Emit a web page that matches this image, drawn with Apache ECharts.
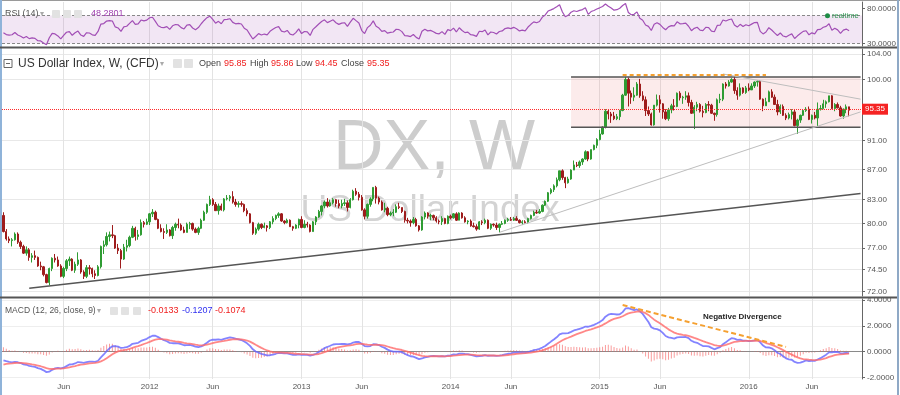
<!DOCTYPE html>
<html><head><meta charset="utf-8">
<script src="https://cdn.jsdelivr.net/npm/echarts@6.0.0/dist/echarts.min.js"></script>
<style>html,body{margin:0;padding:0;background:#fff}#c{width:900px;height:395px}</style>
</head><body><div id="c"></div>
<script>
// ---------- DATA (weekly bars: [open, close, low, high]) ----------
const firstWeek = '2011-01-10';
const futureWeeks = 4;
const preCloses2010 = [84.1,86.0,85.6,86.4,88.1,86.9,85.7,85.5,84.2,84.0,83.2,82.6,81.6,80.4,82.5,83.0,82.6,82.2,82.9,81.4,79.9,78.4,77.1,76.8,77.2,76.9,76.3,78.0,78.7,80.4,79.1,79.6,80.5,80.3,79.0,81.0];
const bars2011 = [
[81.0,79.0,78.9,81.4],[79.0,78.1,77.9,79.3],[78.1,77.9,77.6,78.4],[77.9,78.0,77.2,78.2],[78.0,78.7,77.9,78.9],[78.7,77.7,77.5,78.9],[77.7,77.2,76.9,77.9],[77.2,76.4,76.3,77.4],[76.4,76.8,76.1,77.2],[76.8,75.9,75.5,77.0],
[75.9,76.1,75.3,76.4],[76.1,75.9,75.6,76.7],[75.9,74.9,74.8,76.0],[74.9,74.8,74.4,75.4],[74.8,73.9,73.7,74.9],[73.9,73.0,72.9,74.0],[73.0,74.6,72.7,74.7],[74.6,75.8,74.3,75.9],[75.8,75.6,75.3,76.3],[75.6,74.9,74.8,76.0],
[74.9,73.7,73.6,75.1],[73.7,74.6,73.5,74.8],[74.6,75.5,74.3,75.7],[75.5,75.7,74.9,76.0],[75.7,74.4,74.3,75.8],[74.4,75.1,74.1,75.4],[75.1,75.6,74.9,76.5],[75.6,74.2,74.0,75.7],[74.2,73.7,73.4,74.4],[73.7,74.7,73.5,75.0],
[74.7,74.6,73.9,75.0],[74.6,74.0,73.6,74.7],[74.0,73.8,73.4,74.4],[73.8,74.8,73.7,75.0],[74.8,77.2,74.6,77.3],[77.2,77.4,76.3,77.9],[77.4,78.4,77.2,78.9],[78.4,78.6,77.8,79.0],[78.6,78.5,78.2,79.8],[78.5,77.0,76.9,78.6],
[77.0,76.7,76.3,77.5],[76.7,75.7,74.6,76.9],[75.7,77.1,75.6,77.5],[77.1,77.3,76.6,78.0],[77.3,78.3,77.1,78.5],[78.3,79.4,78.2,79.7],[79.4,78.4,77.9,79.6],[78.4,78.6,78.0,79.2],[78.6,80.1,78.5,80.5],[80.1,79.9,79.5,80.3],
[79.9,80.2,79.8,80.6]];
const bars2012 = [
[80.2,81.2,79.8,81.3],[81.2,81.4,80.8,81.8],[81.4,80.5,80.4,81.6],[80.5,79.4,79.3,80.6],[79.4,79.0,78.9,79.9],[79.0,78.9,78.1,79.4],[78.9,79.2,78.7,79.9],[79.2,78.5,78.4,79.3],[78.5,79.5,78.1,79.7],[79.5,79.9,79.1,80.1],
[79.9,79.8,79.4,80.6],[79.8,79.2,79.1,80.0],[79.2,78.9,78.8,79.6],[78.9,79.9,78.9,80.1],[79.9,80.0,79.3,80.2],[80.0,79.3,79.1,80.1],[79.3,78.9,78.8,79.5],[78.9,79.4,78.6,79.6],[79.4,80.4,79.3,80.6],[80.4,81.4,80.3,81.6],
[81.4,82.4,81.2,82.5],[82.4,83.0,82.2,83.5],[83.0,82.4,82.2,83.2],[82.4,81.6,81.6,82.7],[81.6,82.2,81.1,82.5],[82.2,81.7,81.6,82.5],[81.7,83.1,81.5,83.2],[83.1,83.2,82.9,83.6],[83.2,83.4,82.8,83.6],[83.4,82.7,82.5,84.1],
[82.7,82.4,82.1,83.1],[82.4,82.5,82.0,82.8],[82.5,82.4,82.1,82.8],[82.4,81.6,81.4,82.5],[81.6,81.2,80.9,81.9],[81.2,80.1,80.0,81.3],[80.1,78.8,78.6,80.2],[78.8,79.3,78.6,79.5],[79.3,79.9,79.1,80.1],[79.9,79.5,79.3,80.0],
[79.5,79.7,79.4,80.1],[79.7,79.5,79.0,79.8],[79.5,80.2,79.3,80.3],[80.2,80.6,79.9,80.9],[80.6,81.0,80.4,81.1],[81.0,81.2,80.7,81.4],[81.2,80.3,80.2,81.3],[80.3,80.1,79.9,80.4],[80.1,80.4,80.0,80.6],[80.4,79.6,79.6,80.5],
[79.6,79.4,79.1,79.7],[79.4,79.8,79.3,79.9],[79.8,80.5,79.4,80.6]];
const bars2013 = [
[80.5,79.5,79.4,80.9],[79.5,79.9,79.4,80.4],[79.9,79.8,79.5,80.2],[79.8,79.0,78.9,79.9],[79.0,80.2,79.0,80.3],[80.2,80.8,79.8,80.9],[80.8,81.5,80.7,81.7],[81.5,82.2,81.0,82.3],[82.2,82.7,81.9,82.9],[82.7,82.2,82.0,83.2],
[82.2,82.6,82.1,83.0],[82.6,83.0,82.4,83.2],[83.0,82.5,82.1,83.1],[82.5,82.2,81.9,83.0],[82.2,82.5,81.9,83.0],[82.5,82.6,82.2,83.1],[82.6,82.0,81.5,82.9],[82.0,83.0,81.9,83.2],[83.0,84.1,82.9,84.3],[84.1,83.7,83.5,84.5],
[83.7,83.3,82.9,84.0],[83.3,81.7,81.6,83.6],[81.7,80.9,80.5,81.9],[80.9,82.4,80.6,82.5],[82.4,83.1,82.1,83.3],[83.1,84.6,82.8,84.6],[84.6,83.2,82.5,84.8],[83.2,82.7,82.4,83.4],[82.7,81.7,81.6,82.9],[81.7,81.9,81.4,82.6],
[81.9,81.1,80.9,82.1],[81.1,81.3,80.9,81.5],[81.3,81.4,80.9,81.8],[81.4,82.1,81.3,82.4],[82.1,82.0,81.8,82.6],[82.0,81.5,81.3,82.0],[81.5,80.4,80.1,81.6],[80.4,80.3,80.0,80.7],[80.3,80.1,79.6,80.5],[80.1,80.5,79.9,80.8],
[80.5,79.7,79.6,80.7],[79.7,79.2,79.0,79.8],[79.2,80.8,79.1,80.9],[80.8,81.3,80.5,81.5],[81.3,80.9,80.6,81.4],[80.9,81.0,80.4,81.2],[81.0,80.7,80.4,81.1],[80.7,80.3,80.1,80.9],[80.3,80.2,79.9,80.5],[80.2,80.6,79.8,80.9],
[80.6,80.0,79.9,80.7],[80.0,80.9,79.9,81.0]];
const bars2014 = [
[80.9,80.7,80.5,81.1],[80.7,81.2,80.6,81.3],[81.2,80.4,80.3,81.4],[80.4,81.3,80.4,81.4],[81.3,80.7,80.6,81.4],[80.7,80.2,80.1,80.9],[80.2,80.3,79.9,80.4],[80.3,79.7,79.6,80.5],[79.7,79.6,79.5,80.1],[79.6,79.3,79.1,79.9],
[79.3,80.2,79.2,80.3],[80.2,80.1,79.8,80.4],[80.1,80.4,79.9,80.6],[80.4,79.4,79.3,80.5],[79.4,79.9,79.2,80.0],[79.9,79.8,79.6,80.0],[79.8,79.5,79.2,80.1],[79.5,79.9,78.9,80.0],[79.9,80.0,79.8,80.3],[80.0,80.4,79.9,80.5],
[80.4,80.5,80.2,80.7],[80.5,80.4,80.3,80.8],[80.4,80.6,80.3,80.8],[80.6,80.4,80.3,80.9],[80.4,80.1,80.0,80.5],[80.1,80.2,79.8,80.4],[80.2,80.1,80.0,80.4],[80.1,80.6,80.0,80.7],[80.6,81.0,80.5,81.1],[81.0,81.4,80.9,81.6],
[81.4,81.3,81.2,81.7],[81.3,81.5,81.2,81.8],[81.5,82.3,81.4,82.4],[82.3,82.8,82.2,82.9],[82.8,83.9,82.7,84.0],[83.9,84.3,83.7,84.5],[84.3,84.8,84.0,85.0],[84.8,85.6,84.6,85.9],[85.6,86.8,85.4,86.8],[86.8,85.9,85.6,87.0],
[85.9,85.2,84.5,86.0],[85.2,85.7,85.1,86.0],[85.7,86.9,85.6,87.0],[86.9,87.6,86.9,88.2],[87.6,87.5,87.3,88.0],[87.5,88.0,87.2,88.2],[88.0,88.4,87.6,88.5],[88.4,89.4,88.3,89.6],[89.4,88.4,88.1,89.5],[88.4,89.7,88.3,89.7],
[89.7,90.3,89.6,90.4],[90.3,91.1,89.9,91.3]];
const bars2015 = [
[91.1,91.9,91.0,92.5],[91.9,92.9,91.8,93.0],[92.9,95.2,92.7,95.5],[95.2,94.8,94.0,95.5],[94.8,94.5,93.5,95.1],[94.5,94.1,93.9,95.1],[94.1,94.4,93.9,94.8],[94.4,95.3,93.9,95.4],[95.3,97.6,95.2,97.8],[97.6,100.0,97.5,100.4],
[100.0,97.9,95.9,100.3],[97.9,97.3,96.3,98.3],[97.3,97.6,96.7,98.8],[97.6,99.3,97.5,99.6],[99.3,97.5,97.2,100.1],[97.5,96.9,96.7,98.2],[96.9,95.3,94.5,97.4],[95.3,94.8,94.5,95.9],[94.8,93.2,93.1,95.0],[93.2,96.1,93.1,96.1],
[96.1,96.9,95.9,97.7],[96.9,96.3,95.0,97.6],[96.3,95.1,94.1,96.4],[95.1,94.1,93.9,95.5],[94.1,95.4,93.8,95.7],[95.4,96.0,94.9,96.3],[96.0,95.9,95.3,97.0],[95.9,97.9,95.8,98.0],[97.9,97.2,96.8,98.2],[97.2,97.3,96.3,97.5],
[97.3,97.5,96.9,98.2],[97.5,96.5,95.9,98.0],[96.5,94.9,94.8,96.9],[94.9,95.8,92.6,96.1],[95.8,96.2,95.2,96.6],[96.2,95.2,95.0,96.4],[95.2,95.0,94.3,96.0],[95.0,96.2,94.9,96.4],[96.2,96.1,95.2,96.7],[96.1,94.9,94.8,96.3],
[94.9,94.7,93.8,95.0],[94.7,96.9,94.4,97.1],[96.9,97.0,96.4,97.8],[97.0,99.3,96.7,99.4],[99.3,99.0,98.6,99.6],[99.0,99.6,98.9,99.9],[99.6,100.0,99.5,100.2],[100.0,98.3,97.8,100.5],[98.3,97.6,96.9,98.8],[97.6,98.7,97.4,99.4],
[98.7,98.0,97.8,98.8],[98.0,98.7,97.8,99.0]];
const bars2016 = [
[98.7,98.4,98.2,99.4],[98.4,99.0,98.4,99.4],[99.0,99.6,98.7,99.7],[99.6,99.7,98.9,99.9],[99.7,97.0,96.9,99.9],[97.0,96.0,95.2,97.1],[96.0,96.6,96.0,97.2],[96.6,98.1,96.6,98.3],[98.1,97.3,97.2,98.5],[97.3,96.2,96.2,97.7],
[96.2,95.1,94.6,96.9],[95.1,95.9,94.8,96.2],[95.9,94.6,94.5,96.2],[94.6,94.2,93.9,94.9],[94.2,94.7,94.0,95.0],[94.7,95.1,94.0,95.5],[95.1,93.1,93.0,95.4],[93.1,93.9,91.9,94.1],[93.9,94.6,93.5,94.7],[94.6,95.3,94.5,95.4],
[95.3,95.5,95.1,95.8],[95.5,94.0,93.9,95.9],[94.0,94.6,93.4,94.7],[94.6,94.2,94.0,95.1],[94.2,95.5,93.0,96.5],[95.5,95.6,95.3,96.1],[95.6,96.3,95.5,96.9],[96.3,96.6,95.7,96.8],[96.6,97.5,96.5,97.5],[97.5,95.6,95.5,97.6],
[95.6,96.2,95.2,96.4],[96.2,95.7,95.6,96.5],[95.7,94.5,94.4,96.0],[94.5,95.5,94.1,95.6],[95.5,95.85,94.9,96.2],[95.85,95.35,94.45,95.86]];

// ticks / labels
const priceTicks = [72, 74.5, 77, 80, 83, 87, 91, 100, 104];
const rsiTicks = [30, 80];
const rsiBand = [30, 70];
const macdTicks = [-2, 0, 2, 4];
const priceRange = [71.49, 104.84];
const rsiRange = [26.4, 89.3];
const macdRange = [-2.13, 4.1];
const lastBar = {open: 95.85, high: 95.86, low: 94.45, close: 95.35};
const rsiLegendValue = '48.2801';
const macdLegendValues = ['-0.0133', '-0.1207', '-0.1074'];

// annotations (category index, value)
const trendLong = [[9, 72.36], [299, 83.8]];
const trendRise = [[173, 78.9], [299, 95.1]];
const trendFall = [[251, 100.86], [299, 97.0]];
const resistance = [[216, 100.7], [266, 100.7]];
const rangeBox = {from: 198, to: 299, top: 100.39, bottom: 92.86};
const divergence = [[216, 3.63], [273, 0.37]];

// ---------- BUILD ----------
const bars = [].concat(bars2011, bars2012, bars2013, bars2014, bars2015, bars2016);
const weeks = [];
const t0 = Date.parse(firstWeek + 'T00:00:00Z');
for (let i = 0; i < bars.length + futureWeeks; i++) weeks.push(new Date(t0 + i * 7 * 864e5).toISOString().slice(0, 10));

const closes = preCloses2010.concat(bars.map(b => b[1]));
function ema(a, n) { const k = 2 / (n + 1); const o = []; let e = a[0]; for (let i = 0; i < a.length; i++) { e = i === 0 ? a[0] : a[i] * k + e * (1 - k); o.push(e); } return o; }
function rsiW(cl, n) {
  const o = new Array(cl.length).fill(null); let g = 0, l = 0;
  for (let i = 1; i <= n; i++) { const d = cl[i] - cl[i - 1]; if (d > 0) g += d; else l -= d; }
  g /= n; l /= n; o[n] = 100 - 100 / (1 + g / l);
  for (let i = n + 1; i < cl.length; i++) { const d = cl[i] - cl[i - 1]; g = (g * (n - 1) + Math.max(d, 0)) / n; l = (l * (n - 1) + Math.max(-d, 0)) / n; o[i] = l === 0 ? 100 : 100 - 100 / (1 + g / l); }
  return o;
}
const P = preCloses2010.length;
const e12 = ema(closes, 12), e26 = ema(closes, 26);
const macdAll = e12.map((v, i) => v - e26[i]);
const sigAll = ema(macdAll, 9);
const macd = macdAll.slice(P), signal = sigAll.slice(P);
const hist = macd.map((v, i) => v - signal[i]);
const rsi = rsiW(closes, 14).slice(P);

const L = Math.log10;
function isMark(i) {
  if (i <= 0 || i >= weeks.length) return false;
  const m = weeks[i].slice(5, 7), pm = weeks[i - 1].slice(5, 7);
  return m !== pm && (m === '01' || m === '06');
}
const UP = '#2f9c33', DOWN = '#9e1c1c';
const FONT = '"Liberation Sans", Arial, sans-serif';
const gridLine = {show: true, interval: (i) => isMark(i), alignWithLabel: true, lineStyle: {color: '#e3e3e3', width: 1}};
function xa(gi, showLabel) {
  return {type: 'category', gridIndex: gi, data: weeks, boundaryGap: true,
    axisLine: {show: showLabel, lineStyle: {color: '#8a8a8a'}}, axisTick: {show: false},
    axisLabel: {show: showLabel, interval: (i) => isMark(i), formatter: (v) => v.slice(5, 7) === '01' ? v.slice(0, 4) : 'Jun', color: '#555', fontSize: 8, margin: 4, fontFamily: FONT},
    splitLine: gridLine};
}
const yLabel = {color: '#555', fontSize: 8, margin: 5, fontFamily: FONT};
const lineS = (xi, data, color, width, type, conv) => ({type: 'line', xAxisIndex: xi, yAxisIndex: xi, silent: true, symbol: 'none', z: 4,
  data: data.map(p => [p[0], conv ? L(p[1]) : p[1]]), lineStyle: {color, width, type: type || 'solid'}});

const txt = (x, y, text, fill, size, extra) => Object.assign({type: 'text', z: 100, style: {x, y, text, fill, font: (extra && extra.bold ? 'bold ' : '') + size + 'px ' + FONT, verticalAlign: 'middle', align: (extra && extra.align) || 'left'}});
const icon = (x, y, s) => ({type: 'rect', z: 100, shape: {x, y, width: s, height: s, r: 1}, style: {fill: '#e2e2e2'}});

const chart = echarts.init(document.getElementById('c'), null, {renderer: 'canvas'});
chart.setOption({
  animation: false,
  textStyle: {fontFamily: FONT},
  grid: [
    {left: 2, right: 38, top: 2, height: 44},
    {left: 2, right: 38, top: 49, height: 247},
    {left: 2, right: 38, top: 299, height: 80}
  ],
  xAxis: [xa(0, false), xa(1, false), xa(2, true)],
  yAxis: [
    {gridIndex: 0, position: 'right', min: rsiRange[0], max: rsiRange[1], axisLine: {show: true, lineStyle: {color: '#666'}},
      axisTick: {show: true, length: 3, customValues: rsiTicks, lineStyle: {color: '#666'}}, axisLabel: Object.assign({customValues: rsiTicks, formatter: v => v.toFixed(4)}, yLabel), splitLine: {show: false}},
    {gridIndex: 1, position: 'right', min: L(priceRange[0]), max: L(priceRange[1]), axisLine: {show: true, lineStyle: {color: '#666'}},
      axisTick: {show: true, length: 3, customValues: priceTicks.map(L), lineStyle: {color: '#666'}},
      axisLabel: Object.assign({customValues: priceTicks.map(L), formatter: v => Math.pow(10, v).toFixed(2)}, yLabel),
      splitLine: {show: true, lineStyle: {color: '#e8e8e8'}}},
    {gridIndex: 2, position: 'right', min: macdRange[0], max: macdRange[1], axisLine: {show: true, lineStyle: {color: '#666'}},
      axisTick: {show: true, length: 3, customValues: macdTicks, lineStyle: {color: '#666'}}, axisLabel: Object.assign({customValues: macdTicks, formatter: v => v.toFixed(4)}, yLabel),
      splitLine: {show: true, lineStyle: {color: '#eeeeee'}}}
  ],
  series: [
    {type: 'line', name: 'RSI', xAxisIndex: 0, yAxisIndex: 0, data: rsi, symbol: 'none', silent: true, z: 5,
      lineStyle: {color: '#a24fb6', width: 1.2},
      markArea: {silent: true, itemStyle: {color: 'rgba(160,80,180,0.14)'}, data: [[{yAxis: rsiBand[0]}, {yAxis: rsiBand[1]}]]},
      markLine: {silent: true, symbol: ['none', 'none'], label: {show: false}, lineStyle: {color: '#888', type: [3, 2], width: 1}, data: [{yAxis: rsiBand[0]}, {yAxis: rsiBand[1]}]}},
    {type: 'candlestick', xAxisIndex: 1, yAxisIndex: 1, data: bars.map(b => b.map(L)), barWidth: 1.8, silent: true, z: 3,
      itemStyle: {color: UP, color0: DOWN, borderColor: UP, borderColor0: DOWN, borderWidth: 1},
      markArea: {silent: true, itemStyle: {color: 'rgba(235,120,120,0.15)'}, data: [[{xAxis: rangeBox.from, yAxis: L(rangeBox.top)}, {xAxis: rangeBox.to, yAxis: L(rangeBox.bottom)}]]},
      markLine: {silent: true, symbol: ['none', 'none'], lineStyle: {color: '#ff2a2a', type: 'dotted', width: 1},
        label: {show: true, position: 'end', formatter: lastBar.close.toFixed(2), backgroundColor: '#f52323', color: '#fff', fontSize: 8, padding: [2, 3, 1, 3], distance: 0},
        data: [{yAxis: L(lastBar.close)}]}},
    lineS(1, [[rangeBox.from, rangeBox.top], [rangeBox.to, rangeBox.top]], '#555', 1.5, 'solid', true),
    lineS(1, [[rangeBox.from, rangeBox.bottom], [rangeBox.to, rangeBox.bottom]], '#555', 1.5, 'solid', true),
    lineS(1, trendLong, '#555', 1.5, 'solid', true),
    lineS(1, trendRise, '#bdbdbd', 1, 'solid', true),
    lineS(1, trendFall, '#bdbdbd', 1, 'solid', true),
    lineS(1, resistance, '#f5a030', 2, [4, 3], true),
    {type: 'bar', xAxisIndex: 2, yAxisIndex: 2, data: hist, barWidth: 1, silent: true, itemStyle: {color: 'rgba(245,90,90,0.6)'}},
    {type: 'line', xAxisIndex: 2, yAxisIndex: 2, data: macd, symbol: 'none', silent: true, lineStyle: {color: 'rgba(100,100,255,0.8)', width: 1.8}},
    {type: 'line', xAxisIndex: 2, yAxisIndex: 2, data: signal, symbol: 'none', silent: true, lineStyle: {color: 'rgba(255,105,105,0.8)', width: 1.8}},
    lineS(2, divergence, '#f5a030', 2, [5, 3], false)
  ],
  graphic: [
    {type: 'text', z: 0, style: {x: 434, y: 150, text: 'DX, W', fill: '#cdcdcd', font: '70px ' + FONT, align: 'center', verticalAlign: 'middle'}},
    {type: 'text', z: 0, style: {x: 430, y: 211, text: 'US Dollar Index', fill: '#d3d3d3', font: '37px ' + FONT, align: 'center', verticalAlign: 'middle'}},
    {type: 'rect', z: 100, shape: {x: 0, y: 0, width: 900, height: 1}, style: {fill: '#9a9a9a'}},
    {type: 'rect', z: 100, shape: {x: 0, y: 0, width: 2, height: 395}, style: {fill: '#8fb3d9'}},
    {type: 'rect', z: 100, shape: {x: 897, y: 0, width: 2, height: 395}, style: {fill: '#8fa9c6'}},
    {type: 'rect', z: 100, shape: {x: 0, y: 46.5, width: 897, height: 2}, style: {fill: '#555'}},
    {type: 'rect', z: 100, shape: {x: 0, y: 296.5, width: 897, height: 2}, style: {fill: '#555'}},
    // RSI legend
    txt(5, 14, 'RSI (14)', '#555', 9), txt(40, 14, '▾', '#aaa', 8), icon(52, 10, 8), icon(63, 10, 8), icon(74, 10, 8),
    txt(91, 14, rsiLegendValue, '#a040b0', 9),
    {type: 'circle', z: 100, shape: {cx: 827.5, cy: 15.7, r: 2.5}, style: {fill: '#1e8c45'}},
    txt(832, 15.7, 'realtime', '#2e9450', 7.5),
    // main legend
    {type: 'rect', z: 100, shape: {x: 4, y: 59.5, width: 8, height: 8}, style: {fill: '#fff', stroke: '#666', lineWidth: 1}},
    {type: 'line', z: 101, shape: {x1: 6, y1: 63.5, x2: 10, y2: 63.5}, style: {stroke: '#666', lineWidth: 1}},
    txt(18, 63.5, 'US Dollar Index, W, (CFD)', '#333', 12), txt(160, 64, '▾', '#aaa', 8), icon(173, 59, 9), icon(184, 59, 9),
    txt(199, 63.5, 'Open', '#444', 9), txt(224, 63.5, lastBar.open.toFixed(2), '#f02020', 9),
    txt(250, 63.5, 'High', '#444', 9), txt(271, 63.5, lastBar.high.toFixed(2), '#f02020', 9),
    txt(296, 63.5, 'Low', '#444', 9), txt(315, 63.5, lastBar.low.toFixed(2), '#f02020', 9),
    txt(341, 63.5, 'Close', '#444', 9), txt(367, 63.5, lastBar.close.toFixed(2), '#f02020', 9),
    // MACD legend
    txt(5, 311, 'MACD (12, 26, close, 9)', '#555', 8.5), txt(97, 311, '▾', '#aaa', 8), icon(110, 307, 8), icon(121, 307, 8), icon(133, 307, 8),
    txt(148, 311, macdLegendValues[0], '#f02020', 9), txt(182, 311, macdLegendValues[1], '#3030f0', 9), txt(215, 311, macdLegendValues[2], '#f02020', 9),
    txt(703, 317, 'Negative Divergence', '#222', 8, {bold: true})
  ]
});
</script></body></html>
